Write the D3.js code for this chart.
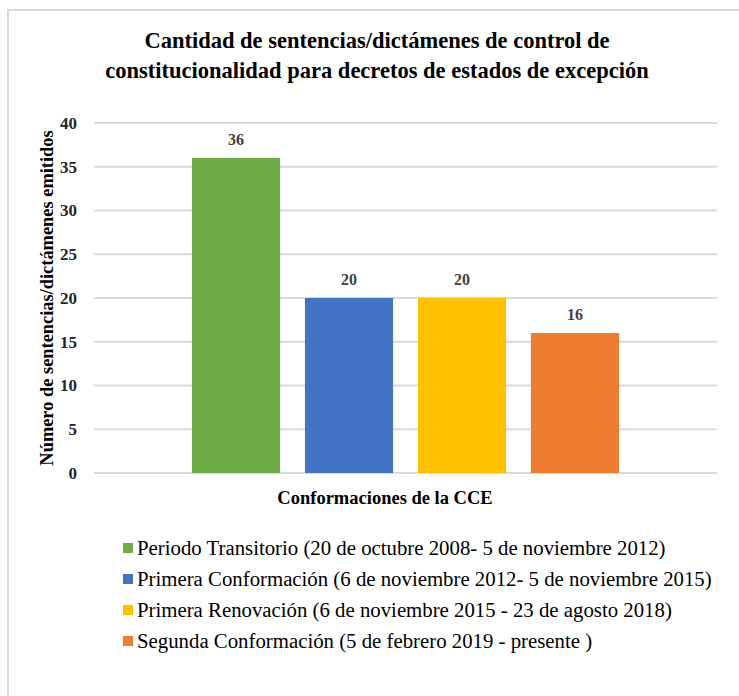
<!DOCTYPE html>
<html>
<head>
<meta charset="utf-8">
<script src="https://cdn.jsdelivr.net/npm/d3@7"></script>
<style>
body { margin: 0; background: #fff; }
</style>
</head>
<body>
<svg id="chart" width="739" height="696"></svg>
<script>
var series = [
    "Periodo Transitorio (20 de octubre 2008- 5 de noviembre 2012)",
    "Primera Conformación (6 de noviembre 2012- 5 de noviembre 2015)",
    "Primera Renovación (6 de noviembre 2015 - 23 de agosto 2018)",
    "Segunda Conformación (5 de febrero 2019 - presente )"
];
var values = [36, 20, 20, 16];
var colors = ["#70AD47", "#4472C4", "#FFC000", "#ED7D31"];
var yTicks = [0, 5, 10, 15, 20, 25, 30, 35, 40];

var serif = "Liberation Serif";
var svg = d3.select("#chart");

// outer frame
svg.append("rect")
    .attr("x", 8).attr("y", 10)
    .attr("width", 760).attr("height", 720)
    .attr("fill", "none")
    .attr("stroke", "#d9d9d9")
    .attr("stroke-width", 2);

var plotLeft = 94, plotRight = 717, plotTop = 123, plotBottom = 473;

var y = d3.scaleLinear().domain([0, 40]).range([plotBottom, plotTop]);
var x = d3.scaleBand().domain(series).range([plotLeft, plotRight])
    .paddingInner(0.22).paddingOuter(0.867);

// gridlines
svg.append("g")
    .selectAll("line")
    .data(yTicks)
    .enter().append("line")
    .attr("x1", plotLeft).attr("x2", plotRight)
    .attr("y1", function(d) { return y(d); })
    .attr("y2", function(d) { return y(d); })
    .attr("stroke", "#d9d9d9")
    .attr("stroke-width", 2);

// y axis labels
var yAxis = svg.append("g")
    .attr("transform", "translate(" + (plotLeft - 17) + ",0)")
    .call(d3.axisLeft(y).tickValues(yTicks).tickSize(0).tickPadding(0));
yAxis.select(".domain").remove();
yAxis.selectAll("text")
    .style("font-family", serif)
    .style("font-size", "17px")
    .style("font-weight", "bold")
    .attr("fill", "#262626");

// bars
svg.append("g")
    .selectAll("rect")
    .data(values)
    .enter().append("rect")
    .attr("x", function(d, i) { return x(series[i]); })
    .attr("y", function(d) { return y(d); })
    .attr("width", x.bandwidth())
    .attr("height", function(d) { return plotBottom - y(d); })
    .attr("fill", function(d, i) { return colors[i]; });

// value labels
svg.append("g")
    .selectAll("text")
    .data(values)
    .enter().append("text")
    .attr("x", function(d, i) { return x(series[i]) + x.bandwidth() / 2; })
    .attr("y", function(d) { return y(d) - 13; })
    .attr("text-anchor", "middle")
    .style("font-family", serif)
    .style("font-size", "16px")
    .style("font-weight", "bold")
    .attr("fill", "#404040")
    .text(function(d) { return d; });

// title
var title = svg.append("text")
    .attr("text-anchor", "middle")
    .style("font-family", serif)
    .style("font-size", "22.5px")
    .style("font-weight", "bold")
    .attr("fill", "#000");
title.append("tspan").attr("x", 377).attr("y", 48)
    .text("Cantidad de sentencias/dictámenes de control de");
title.append("tspan").attr("x", 377).attr("y", 78)
    .text("constitucionalidad para decretos de estados de excepción");

// y axis title
svg.append("text")
    .attr("transform", "translate(53," + ((plotTop + plotBottom) / 2) + ") rotate(-90)")
    .attr("text-anchor", "middle")
    .style("font-family", serif)
    .style("font-size", "18.4px")
    .style("font-weight", "bold")
    .attr("fill", "#000")
    .text("Número de sentencias/dictámenes emitidos");

// x axis title
svg.append("text")
    .attr("x", 385).attr("y", 504)
    .attr("text-anchor", "middle")
    .style("font-family", serif)
    .style("font-size", "18.5px")
    .style("font-weight", "bold")
    .attr("fill", "#000")
    .text("Conformaciones de la CCE");

// legend
var legend = svg.append("g")
    .selectAll("g")
    .data(series)
    .enter().append("g")
    .attr("transform", function(d, i) { return "translate(123," + (548 + i * 31) + ")"; });
legend.append("rect")
    .attr("x", 0).attr("y", -5)
    .attr("width", 10).attr("height", 10)
    .attr("fill", function(d, i) { return colors[i]; });
legend.append("text")
    .attr("x", 14).attr("y", 7)
    .style("font-family", serif)
    .style("font-size", "20.8px")
    .attr("fill", "#000")
    .text(function(d) { return d; });
</script>
</body>
</html>
